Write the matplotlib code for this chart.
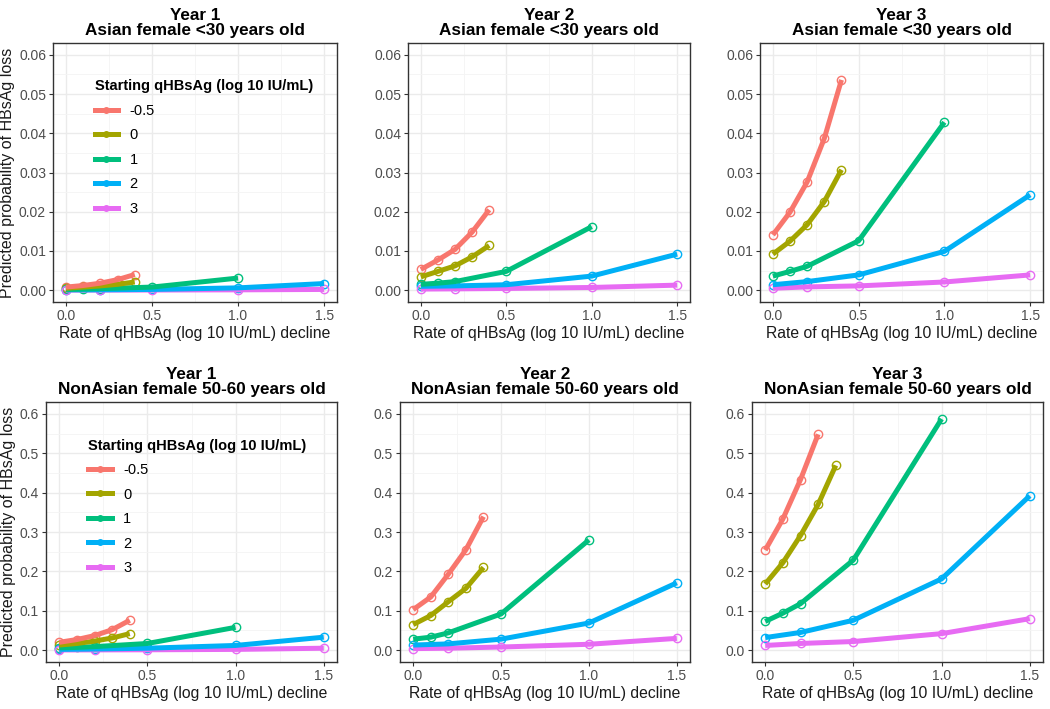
import matplotlib
matplotlib.use("Agg")
from matplotlib import pyplot as plt
from matplotlib.lines import Line2D
from matplotlib.ticker import MultipleLocator, FormatStrFormatter

plt.rcParams['font.family'] = ['Liberation Sans', 'DejaVu Sans']

# starting qHBsAg groups and their x grids (rate of decline)
groups = ['-0.5', '0', '1', '2', '3']
colors = ['#F8766D', '#A3A500', '#00BF7D', '#00B0F6', '#E76BF3']
x_low = [0.0, 0.1, 0.2, 0.3, 0.4]
x_mid = [0.0, 0.1, 0.2, 0.5, 1.0]
x_high = [0.0, 0.2, 0.5, 1.0, 1.5]
x_red_y3_nonasian = [0.0, 0.1, 0.2, 0.3]

# Asian female <30 years old
asian_y1 = [
    [0.0008, 0.0012, 0.0018, 0.0027, 0.0040],
    [0.0005, 0.0008, 0.0011, 0.0015, 0.0021],
    [0.0002, 0.0003, 0.0004, 0.0008, 0.0031],
    [0.0001, 0.0001, 0.0002, 0.0006, 0.0017],
    [0.00003, 0.00004, 0.00005, 0.0001, 0.0002],
]
asian_y2 = [
    [0.0053, 0.0077, 0.0104, 0.0148, 0.0205],
    [0.0034, 0.0048, 0.0062, 0.0085, 0.0114],
    [0.0015, 0.0018, 0.0022, 0.0048, 0.0162],
    [0.0010, 0.0011, 0.0014, 0.0036, 0.0092],
    [0.0003, 0.00035, 0.00045, 0.0007, 0.0013],
]
asian_y3 = [
    [0.0141, 0.0199, 0.0276, 0.0387, 0.0536],
    [0.0092, 0.0125, 0.0167, 0.0226, 0.0307],
    [0.0036, 0.0048, 0.0061, 0.0126, 0.0428],
    [0.0014, 0.0022, 0.0039, 0.0099, 0.0243],
    [0.0005, 0.00085, 0.0011, 0.0021, 0.0039],
]

# NonAsian female 50-60 years old
nonasian_y1 = [
    [0.020, 0.027, 0.037, 0.052, 0.076],
    [0.013, 0.017, 0.023, 0.031, 0.042],
    [0.006, 0.007, 0.009, 0.017, 0.058],
    [0.002, 0.003, 0.005, 0.012, 0.033],
    [0.0005, 0.0007, 0.001, 0.002, 0.005],
]
nonasian_y2 = [
    [0.103, 0.135, 0.193, 0.255, 0.339],
    [0.065, 0.088, 0.123, 0.157, 0.210],
    [0.028, 0.033, 0.044, 0.092, 0.280],
    [0.013, 0.016, 0.028, 0.069, 0.171],
    [0.004, 0.005, 0.008, 0.015, 0.030],
]
nonasian_y3 = [
    [0.254, 0.333, 0.433, 0.548],
    [0.168, 0.222, 0.291, 0.370, 0.469],
    [0.073, 0.094, 0.118, 0.229, 0.587],
    [0.032, 0.045, 0.076, 0.181, 0.392],
    [0.012, 0.017, 0.022, 0.042, 0.080],
]

years = ['Year 1', 'Year 2', 'Year 3']
subtitles = ['Asian female <30 years old', 'NonAsian female 50-60 years old']
panel_data = [[asian_y1, asian_y2, asian_y3],
              [nonasian_y1, nonasian_y2, nonasian_y3]]

W, H = 1050, 709
fig = plt.figure(figsize=(W / 100, H / 100), dpi=100)

# axes boxes in pixels: (left, right, top, bottom)
boxes = [
    [(53, 337, 43, 302), (408, 690, 43, 302), (760, 1043, 43, 302)],
    [(46, 337, 402, 662), (400, 690, 402, 662), (752, 1043, 402, 662)],
]

for r in range(2):
    for c in range(3):
        l, rr, t, b = boxes[r][c]
        ax = fig.add_axes([l / W, 1 - b / H, (rr - l) / W, (b - t) / H])
        data = panel_data[r][c]
        for i, g in enumerate(groups):
            if i < 2:
                xs = x_low
            elif i == 2:
                xs = x_mid
            else:
                xs = x_high
            if r == 1 and c == 2 and i == 0:
                xs = x_red_y3_nonasian
            # hollow points first, then the thick line on top
            ax.plot(xs, data[i], ls='none', marker='o', ms=6, mfc='none',
                    mec=colors[i], mew=1.0, zorder=2)
            ax.plot(xs, data[i], color=colors[i], lw=3.6,
                    solid_capstyle='butt', solid_joinstyle='round',
                    zorder=3 + (5 - i) * 0.1)
        ax.set_xlim(-0.075, 1.575)
        if r == 0:
            ax.set_ylim(-0.003, 0.063)
            ax.yaxis.set_major_locator(MultipleLocator(0.01))
            ax.yaxis.set_minor_locator(MultipleLocator(0.005))
            ax.yaxis.set_major_formatter(FormatStrFormatter('%.2f'))
        else:
            ax.set_ylim(-0.03, 0.63)
            ax.yaxis.set_major_locator(MultipleLocator(0.1))
            ax.yaxis.set_minor_locator(MultipleLocator(0.05))
            ax.yaxis.set_major_formatter(FormatStrFormatter('%.1f'))
        ax.xaxis.set_major_locator(MultipleLocator(0.5))
        ax.xaxis.set_minor_locator(MultipleLocator(0.25))
        ax.xaxis.set_major_formatter(FormatStrFormatter('%.1f'))
        ax.grid(True, which='major', color='#EBEBEB', lw=1.0, zorder=0)
        ax.grid(True, which='minor', color='#F4F4F4', lw=0.6, zorder=0)
        ax.set_axisbelow(True)
        ax.tick_params(which='major', length=3, width=0.8, color='#333333',
                       labelsize=10, labelcolor='#4D4D4D', pad=2)
        ax.tick_params(which='minor', length=0)
        for s in ax.spines.values():
            s.set_color('#333333')
            s.set_linewidth(1.0)
        ax.set_title(years[c] + '\n' + subtitles[r], fontsize=12.3,
                     fontweight='bold', linespacing=1.0, pad=6)
        ax.set_xlabel('Rate of qHBsAg (log 10 IU/mL) decline', fontsize=11.3,
                      color='#1A1A1A', labelpad=2)
        if c == 0:
            ax.set_ylabel('Predicted probability of HBsAg loss', fontsize=11.5,
                          color='#1A1A1A', labelpad=3)
            handles = [Line2D([], [], color=col, lw=3.6, marker='o', ms=4,
                              mfc='none', mec=col, mew=1.0)
                       for col in colors]
            leg = ax.legend(handles, groups,
                            title='Starting qHBsAg (log 10 IU/mL)',
                            loc='upper left', bbox_to_anchor=(0.1, 0.91),
                            frameon=False, fontsize=10.5, handlelength=1.6,
                            labelspacing=0.72, alignment='left')
            leg.get_title().set_fontweight('bold')
            leg.get_title().set_fontsize(10.5)

fig.savefig('out.png', dpi=100)
